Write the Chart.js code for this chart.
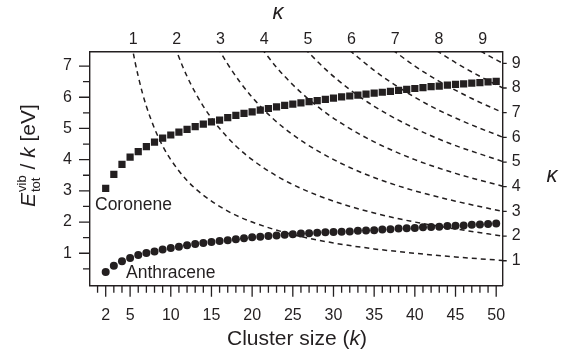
<!DOCTYPE html>
<html>
<head>
<meta charset="utf-8">
<script src="https://cdn.jsdelivr.net/npm/chart.js@4.4.1/dist/chart.umd.min.js"></script>
<style>
  body { margin: 0; background: #fff; }
  #wrap { width: 563px; height: 357px; }
</style>
</head>
<body>
<div id="wrap"><canvas id="myChart" width="563" height="357"></canvas></div>
<script>
//cluster sizes
const clusterSize = [2, 3, 4, 5, 6, 7, 8, 9, 10, 11, 12, 13, 14, 15, 16, 17, 18, 19, 20, 21, 22, 23, 24, 25, 26,
  27, 28, 29, 30, 31, 32, 33, 34, 35, 36, 37, 38, 39, 40, 41, 42, 43, 44, 45, 46, 47, 48, 49, 50];

//E_tot^vib / k values [eV]
const coronene = [3.08, 3.53, 3.85, 4.08, 4.26, 4.42, 4.56, 4.69, 4.79, 4.88, 4.97, 5.06, 5.14, 5.21, 5.27, 5.35,
  5.42, 5.48, 5.53, 5.59, 5.64, 5.69, 5.74, 5.78, 5.82, 5.86, 5.89, 5.93, 5.97, 6.01, 6.04, 6.07, 6.10, 6.13,
  6.16, 6.19, 6.22, 6.25, 6.28, 6.31, 6.34, 6.36, 6.39, 6.41, 6.43, 6.45, 6.47, 6.49, 6.51];
const anthracene = [0.40, 0.60, 0.74, 0.85, 0.94, 1.01, 1.06, 1.12, 1.17, 1.21, 1.26, 1.30, 1.33, 1.36, 1.39, 1.42,
  1.45, 1.48, 1.51, 1.53, 1.55, 1.57, 1.59, 1.61, 1.63, 1.64, 1.66, 1.67, 1.68, 1.69, 1.70, 1.72, 1.73, 1.74,
  1.76, 1.77, 1.79, 1.80, 1.81, 1.83, 1.84, 1.85, 1.87, 1.88, 1.89, 1.91, 1.92, 1.94, 1.95];

//dashed lines of constant kappa (1..9)
const curveK = [
  [5.2, 5.6, 6, 6.5, 7, 8, 9, 10, 12, 14, 17, 20, 25, 30, 35, 40, 45, 50.8],
  [10.5, 11.5, 12.5, 14, 16, 18, 20, 23, 26, 30, 35, 40, 45, 50.8],
  [15.8, 17, 18.5, 20, 22.5, 25, 28, 32, 36, 40, 45, 50.8],
  [21.2, 23, 25, 28, 31, 35, 40, 45, 50.8],
  [26.5, 29, 32, 35, 39, 44, 50.8],
  [32, 35, 38, 42, 46, 50.8],
  [37.3, 40, 43, 47, 50.8],
  [42.7, 45, 48, 50.8],
  [48.1, 49.5, 50.8]
];
const curveE = [
  [7.69, 7.14, 6.67, 6.15, 5.71, 5.0, 4.44, 4.0, 3.33, 2.86, 2.35, 2.0, 1.6, 1.33, 1.14, 1.0, 0.88, 0.77],
  [7.62, 6.96, 6.4, 5.71, 5.0, 4.44, 4.0, 3.48, 3.08, 2.67, 2.29, 2.0, 1.78, 1.55],
  [7.59, 7.06, 6.49, 6.0, 5.33, 4.8, 4.29, 3.75, 3.33, 3.0, 2.67, 2.34],
  [7.55, 6.96, 6.4, 5.71, 5.16, 4.57, 4.0, 3.56, 3.15],
  [7.55, 6.9, 6.25, 5.71, 5.13, 4.55, 3.94],
  [7.5, 6.86, 6.32, 5.71, 5.22, 4.72],
  [7.51, 7.0, 6.51, 5.96, 5.51],
  [7.49, 7.11, 6.67, 6.3],
  [7.48, 7.27, 7.09]
];

//tick labels
const xTickLabels = [2, 5, 10, 15, 20, 25, 30, 35, 40, 45, 50];
const yTickLabels = [1, 2, 3, 4, 5, 6, 7];
const kappaTicks = [1, 2, 3, 4, 5, 6, 7, 8, 9];

const ink = "#231f20";
const font = "'Liberation Sans', Arial, Helvetica, sans-serif";

function toPoints(xs, ys) {
  return xs.map((x, i) => ({ x: x, y: ys[i] }));
}

let datasets = [
  {
    label: "Anthracene",
    data: toPoints(clusterSize, anthracene),
    pointStyle: "circle",
    pointRadius: 4,
    backgroundColor: ink,
    borderWidth: 0
  },
  {
    label: "Coronene",
    data: toPoints(clusterSize, coronene),
    pointStyle: "rect",
    pointRadius: 5.1,
    backgroundColor: ink,
    borderWidth: 0
  }
];
for (let i = 0; i < curveK.length; i++) {
  datasets.push({
    label: "kappa " + (i + 1),
    data: toPoints(curveK[i], curveE[i]),
    showLine: true,
    pointRadius: 0,
    borderColor: ink,
    borderWidth: 1.5,
    borderDash: [5, 4],
    cubicInterpolationMode: "monotone",
    fill: false
  });
}

function setTicks(values) {
  return function(scale) {
    scale.ticks = values.map(v => ({ value: v }));
  };
}

function axis(position, min, max, padding, size, ticks) {
  return {
    type: "linear",
    position: position,
    min: min,
    max: max,
    afterBuildTicks: setTicks(ticks),
    afterFit: function(scale) {
      if (position === "left" || position === "right") scale.width = size;
      else scale.height = size;
    },
    grid: { drawOnChartArea: false, drawTicks: false, color: "transparent" },
    border: { display: true, color: ink, width: 1.4 },
    ticks: {
      padding: padding,
      color: ink,
      autoSkip: false,
      maxRotation: 0,
      font: { family: font, size: 16 },
      callback: v => String(v)
    }
  };
}

//tick marks and free text
const decorations = {
  id: "decorations",
  afterDraw(chart) {
    let ctx = chart.ctx;
    let x = chart.scales.x, y = chart.scales.y, yr = chart.scales.yRight;
    let area = chart.chartArea;
    ctx.save();
    ctx.strokeStyle = ink;
    ctx.lineWidth = 1.3;
    ctx.beginPath();
    //bottom: every cluster size, longer on labelled ones
    for (let k = 1; k <= 50; k++) {
      let px = x.getPixelForValue(k);
      let len = xTickLabels.includes(k) ? 11 : 7;
      ctx.moveTo(px, area.bottom);
      ctx.lineTo(px, area.bottom + len);
    }
    //left: integers and halves
    for (let e = 0.5; e <= 7.01; e += 0.5) {
      let py = y.getPixelForValue(e);
      let len = Number.isInteger(e) ? 11 : 7;
      ctx.moveTo(area.left, py);
      ctx.lineTo(area.left - len, py);
    }
    //right: kappa
    for (let kp of kappaTicks) {
      let py = yr.getPixelForValue(kp);
      ctx.moveTo(area.right, py);
      ctx.lineTo(area.right + 4, py);
    }
    ctx.stroke();

    ctx.fillStyle = ink;
    ctx.textBaseline = "alphabetic";
    ctx.textAlign = "left";
    ctx.font = "17.5px " + font;
    ctx.fillText("Coronene", 95, 210);
    ctx.fillText("Anthracene", 126, 278);

    //x title
    ctx.font = "21px " + font;
    let a = "Cluster size (", b = "k", c = ")";
    let wa = ctx.measureText(a).width, wc = ctx.measureText(c).width;
    ctx.font = "italic 21px " + font;
    let wb = ctx.measureText(b).width;
    let sx = 297 - (wa + wb + wc) / 2;
    ctx.font = "21px " + font;
    ctx.fillText(a, sx, 345);
    ctx.font = "italic 21px " + font;
    ctx.fillText(b, sx + wa, 345);
    ctx.font = "21px " + font;
    ctx.fillText(c, sx + wa + wb, 345);

    //kappa titles
    ctx.font = "italic 22px " + font;
    ctx.textAlign = "center";
    ctx.fillText("\u03ba", 278, 18.5);
    ctx.fillText("\u03ba", 552, 182);

    //y title, rotated
    ctx.translate(35, 207);
    ctx.rotate(-Math.PI / 2);
    ctx.textAlign = "left";
    ctx.font = "italic 21px " + font;
    ctx.fillText("E", 0, 0);
    let pos = ctx.measureText("E").width + 1;
    ctx.font = "13px " + font;
    ctx.fillText("vib", pos, -9);
    ctx.fillText("tot", pos, 5);
    pos += Math.max(ctx.measureText("vib").width, ctx.measureText("tot").width);
    ctx.font = "21px " + font;
    ctx.fillText(" / ", pos, 0);
    pos += ctx.measureText(" / ").width;
    ctx.font = "italic 21px " + font;
    ctx.fillText("k", pos, 0);
    pos += ctx.measureText("k").width;
    ctx.font = "21px " + font;
    ctx.fillText(" [eV]", pos, 0);
    ctx.restore();
  }
};

function loadChart() {
  let ctx = document.getElementById("myChart").getContext("2d");
  new Chart(ctx, {
    type: "scatter",
    data: { datasets: datasets },
    options: {
      responsive: false,
      animation: false,
      layout: { padding: 0 },
      plugins: { legend: { display: false }, tooltip: { enabled: false } },
      scales: {
        x: axis("bottom", 0.07, 50.8, 20, 71.3, xTickLabels),
        y: axis("left", -0.04, 7.46, 18, 90, yTickLabels),
        xTop: axis("top", 0.013, 9.46, 3, 51.7, kappaTicks),
        yRight: axis("right", -0.01, 9.47, 9, 60.3, kappaTicks)
      }
    },
    plugins: [decorations]
  });
}

window.onload = function() {
  loadChart();
};
</script>
</body>
</html>
